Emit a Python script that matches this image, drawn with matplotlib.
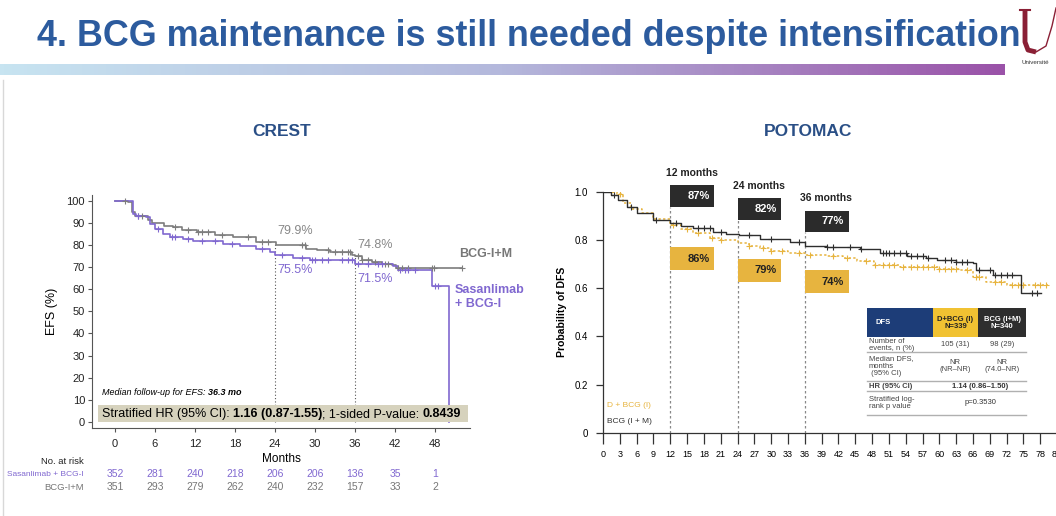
import numpy as np
import matplotlib
matplotlib.use("Agg")
import matplotlib.pyplot as plt
from matplotlib.patches import Rectangle
from matplotlib.colors import LinearSegmentedColormap
from matplotlib.transforms import blended_transform_factory

plt.rcParams["font.family"] = ["Liberation Sans", "DejaVu Sans"]

W, H = 1056, 516

# ---- CREST data ----
CREST_T_GRAY = [0, 2, 2.5, 3, 5, 5.5, 7.3, 8.7, 10, 12.3, 15, 17.7, 21.2, 24.2, 28.7, 30.3,
                32.2, 35.5, 36, 37, 38.5, 40, 41.5, 42.2, 52]
CREST_S_GRAY = [100, 99.5, 95, 93, 91, 90, 88.7, 88, 86.8, 85.7, 84.5, 83.4, 81.2, 79.9, 78.3, 77.5,
                76.8, 75.5, 74.8, 73.2, 72.3, 71.5, 70.8, 69.5, 69.5]
CREST_T_PURP = [0, 2.7, 3.2, 4.7, 5.2, 6, 7.2, 8.2, 10.2, 11.7, 16.2, 18.7, 21.2, 23.2, 24, 26.7,
                29.2, 33.7, 36, 38.7, 41.7, 42.5, 47.5, 50.1]
CREST_S_PURP = [100, 94, 93.2, 92.5, 89.5, 87.3, 85, 83.5, 82.8, 81.7, 80.2, 79.3, 78.3, 76.8, 75.5, 74.2,
                73.3, 73, 71.5, 71.2, 70.3, 68.5, 61.3, 0]
CREST_CENS_GRAY = [1.5, 3.5, 4, 9, 11, 12.5, 13, 14, 16, 20, 22, 23, 28, 28.5, 32, 33, 34, 35, 35.3,
                   36.5, 37, 38, 39, 40.5, 41, 42.5, 43, 44, 47.5, 47.8, 52]
CREST_CENS_PURP = [3.5, 6.5, 8.5, 9, 11, 13, 15, 17.5, 22, 25, 28, 29.5, 30, 31, 32, 34, 35, 35.5,
                   36.5, 38, 39.5, 40, 42.8, 43.5, 44, 45, 48, 48.5]
CREST_RISK_MONTHS = [0, 6, 12, 18, 24, 30, 36, 42, 48]
CREST_RISK_PURP = [352, 281, 240, 218, 206, 206, 136, 35, 1]
CREST_RISK_GRAY = [351, 293, 279, 262, 240, 232, 157, 33, 2]
CREST_LANDMARKS = [24, 36]
CREST_LAND_GRAY = ["79.9%", "74.8%"]
CREST_LAND_PURP = ["75.5%", "71.5%"]

# ---- POTOMAC data ----
POT_T_BLACK = [0, 1.5, 2.7, 4.2, 6, 8.9, 11.9, 14, 16.1, 19.7, 22, 24.2, 28, 33.4, 36, 39.9, 45.8,
               49.4, 54.2, 57.7, 59.5, 63, 66, 66.6, 69.6, 74.5, 78.2]
POT_S_BLACK = [1.0, 0.985, 0.966, 0.938, 0.913, 0.883, 0.869, 0.857, 0.848, 0.834, 0.826, 0.82, 0.803,
               0.793, 0.775, 0.77, 0.761, 0.747, 0.734, 0.724, 0.717, 0.71, 0.703, 0.675, 0.655, 0.58, 0.58]
POT_T_GOLD = [0, 2.5, 3.5, 5, 7, 9, 12, 14, 16, 19, 21, 24, 26, 28, 30, 33, 36, 40, 42.9, 45.3, 48.3,
              53, 60, 63.7, 66, 68.4, 72, 79.4]
POT_S_GOLD = [1.0, 0.99, 0.955, 0.93, 0.91, 0.885, 0.862, 0.845, 0.827, 0.81, 0.8, 0.789, 0.775, 0.765,
              0.755, 0.745, 0.738, 0.733, 0.724, 0.713, 0.696, 0.687, 0.68, 0.675, 0.648, 0.627, 0.613, 0.613]
POT_CENS_BLACK = [2, 5, 9.5, 13, 17, 18, 19, 21, 26, 30, 35, 40, 41, 44, 46, 50, 50.5, 51, 52, 53, 54,
                  55, 56, 57, 58, 61, 62, 63, 64, 65, 67, 69, 70, 71, 72, 73, 76.5, 77.5]
POT_CENS_GOLD = [1.5, 3, 12.5, 15, 17, 19.5, 21, 26, 28.5, 30, 32, 35, 37, 41, 43.5, 47, 48.5, 50, 51,
                 52, 53.5, 55, 56, 57, 58, 59, 60, 61, 62, 63, 65, 66.5, 67, 70, 71, 73, 74, 75, 77, 78, 79]
POT_LANDMARKS = [12, 24, 36]
POT_PCT_BLACK = ["87%", "82%", "77%"]
POT_PCT_GOLD = ["86%", "79%", "74%"]
POT_XTICKS = list(range(0, 82, 3))

TABLE_HEAD = ["DFS", "D+BCG (I)\nN=339", "BCG (I+M)\nN=340"]
TABLE_ROWS = [
    ("Number of\nevents, n (%)", "105 (31)", "98 (29)"),
    ("Median DFS,\nmonths\n (95% CI)", "NR\n(NR–NR)", "NR\n(74.0–NR)"),
    ("HR (95% CI)", "1.14 (0.86–1.50)", None),
    ("Stratified log-\nrank p value", "p=0.3530", None),
]

BLUE_TITLE = "#2c5b9e"
GRAY = "#7d7d7d"
PURPLE = "#8068d0"
GOLD = "#e7b43f"
DARK = "#2e2e2e"


def fx(x):
    return x / W


def fy(y):
    return 1 - y / H


def surv_at(times, surv, t):
    i = np.searchsorted(times, t, side="right") - 1
    return np.asarray(surv)[i]


fig = plt.figure(figsize=(W / 100, H / 100), dpi=100)
fig.patch.set_facecolor("white")

# ---- header ----
fig.text(fx(529), fy(36), "4. BCG maintenance is still needed despite intensification",
         ha="center", va="center", fontsize=25.8, fontweight="bold", color=BLUE_TITLE)
grad_ax = fig.add_axes([0, fy(75), fx(1005), (75 - 64) / H])
grad = np.linspace(0, 1, 256).reshape(1, -1)
cmap = LinearSegmentedColormap.from_list("bar", ["#c7e4f1", "#b4b8dc", "#9a52a8"])
grad_ax.imshow(grad, aspect="auto", cmap=cmap)
grad_ax.axis("off")

# small logo
logo = fig.add_axes([fx(1016), fy(56), fx(40), 50 / H])
logo.set_xlim(0, 40)
logo.set_ylim(0, 50)
logo.axis("off")
logo.plot([4, 14], [46, 46], color="#8a1f35", lw=1.5)
logo.plot([9, 9, 12, 20], [46, 14, 6, 4], color="#8a1f35", lw=3.5, solid_capstyle="butt")
logo.plot([20, 30, 36, 40], [4, 10, 30, 48], color="#8a1f35", lw=1)
fig.text(fx(1022), fy(62), "Université", fontsize=4.5, color="#333", va="center")

fig.add_artist(plt.Line2D([fx(3), fx(3)], [fy(80), fy(516)], color="#d8d8d8", lw=1))

fig.text(fx(282), fy(131), "CREST", ha="center", va="center", fontsize=12.5,
         fontweight="bold", color="#2a4f86")
fig.text(fx(808), fy(131), "POTOMAC", ha="center", va="center", fontsize=12.5,
         fontweight="bold", color="#2a4f86")

# ---- CREST axes ----
ax = fig.add_axes([fx(92), fy(428), fx(470 - 92), (428 - 195) / H])
ax.set_xlim(-3.45, 53.25)
ax.set_ylim(-2.7, 102.5)
for s in ["top", "right"]:
    ax.spines[s].set_visible(False)
for s in ["left", "bottom"]:
    ax.spines[s].set_color("#555")
    ax.spines[s].set_linewidth(0.8)
ax.set_yticks(range(0, 101, 10))
ax.set_xticks(CREST_RISK_MONTHS)
ax.tick_params(axis="both", labelsize=8, color="#555", length=3, width=0.8, labelcolor="#222")
ax.tick_params(axis="x", pad=5)
ax.tick_params(axis="y", pad=2)
ax.set_ylabel("EFS (%)", fontsize=9, labelpad=6)
ax.set_xlabel("Months", fontsize=8.5, labelpad=3)

ax.step(CREST_T_GRAY, CREST_S_GRAY, where="post", color=GRAY, lw=1.2, zorder=3)
ax.step(CREST_T_PURP, CREST_S_PURP, where="post", color=PURPLE, lw=1.2, zorder=3)
ax.plot(CREST_CENS_GRAY, [surv_at(CREST_T_GRAY, CREST_S_GRAY, t) for t in CREST_CENS_GRAY],
        "+", color=GRAY, ms=5, mew=0.8, zorder=4)
ax.plot(CREST_CENS_PURP, [surv_at(CREST_T_PURP, CREST_S_PURP, t) for t in CREST_CENS_PURP],
        "+", color=PURPLE, ms=5, mew=0.8, zorder=4)

for m, g, p in zip(CREST_LANDMARKS, CREST_LAND_GRAY, CREST_LAND_PURP):
    top = surv_at(CREST_T_GRAY, CREST_S_GRAY, m)
    ax.plot([m, m], [0, top], ls=(0, (1, 2)), color="#555", lw=0.8, zorder=2)
    ax.text(m + 0.4, top + 5, g, color="#888", fontsize=9, va="center", ha="left")
    ax.text(m + 0.4, surv_at(CREST_T_PURP, CREST_S_PURP, m) - 7, p, color=PURPLE, fontsize=9,
            va="center", ha="left")

ax.text(51.6, 75.7, "BCG-I+M", color="#777", fontsize=9, fontweight="bold", va="center",
        clip_on=False)
ax.text(51.0, 56.5, "Sasanlimab\n+ BCG-I", color=PURPLE, fontsize=9, fontweight="bold",
        va="center", linespacing=1.3, clip_on=False)

ax.add_patch(Rectangle((-2.6, -0.2), 55.6, 7.8, facecolor="#d6d2bd", edgecolor="none", zorder=5))
t1 = ax.text(-2.0, 3.5, "Stratified HR (95% CI): ", fontsize=9, va="center", zorder=6)
t2 = ax.annotate("1.16 (0.87-1.55)", xy=(1, 0), xycoords=t1, va="bottom", fontsize=9,
                 fontweight="bold", zorder=6)
t3 = ax.annotate("; 1-sided P-value: ", xy=(1, 0), xycoords=t2, va="bottom", fontsize=9, zorder=6)
ax.annotate("0.8439", xy=(1, 0), xycoords=t3, va="bottom", fontsize=9, fontweight="bold", zorder=6)
m1 = ax.text(-2.0, 13.5, "Median follow-up for EFS: ", fontsize=6.5, style="italic", va="center")
ax.annotate("36.3 mo", xy=(1, 0), xycoords=m1, va="bottom", fontsize=6.5, style="italic",
            fontweight="bold")

tr = blended_transform_factory(ax.transData, fig.transFigure)
fig.text(fx(84), fy(461), "No. at risk", fontsize=6.8, ha="right", va="center", color="#222")
fig.text(fx(84), fy(474), "Sasanlimab + BCG-I", fontsize=6, ha="right", va="center", color=PURPLE)
fig.text(fx(84), fy(487), "BCG-I+M", fontsize=6.8, ha="right", va="center", color="#777")
for m, a, b in zip(CREST_RISK_MONTHS, CREST_RISK_PURP, CREST_RISK_GRAY):
    ax.text(m, fy(474), str(a), transform=tr, fontsize=7.5, ha="center", va="center", color=PURPLE)
    ax.text(m, fy(487), str(b), transform=tr, fontsize=7.5, ha="center", va="center", color="#777")

# ---- POTOMAC axes ----
bx = fig.add_axes([fx(603), fy(433), fx(1075 - 603), (433 - 191.7) / H])
bx.set_xlim(0, 84.2)
bx.set_ylim(0, 1.0)
for s in ["top", "right"]:
    bx.spines[s].set_visible(False)
for s in ["left", "bottom"]:
    bx.spines[s].set_color("#333")
    bx.spines[s].set_linewidth(0.9)
bx.set_xticks(POT_XTICKS)
bx.set_yticks([0, 0.2, 0.4, 0.6, 0.8, 1.0])
bx.set_yticklabels(["0", "0.2", "0.4", "0.6", "0.8", "1.0"])
bx.tick_params(axis="x", labelsize=6.5, length=8, width=0.9, color="#333", pad=4)
bx.tick_params(axis="y", labelsize=7, length=5, width=0.9, color="#333", pad=6)
bx.set_ylabel("Probability of DFS", fontsize=7.5, fontweight="bold", labelpad=5)

bx.step(POT_T_GOLD, POT_S_GOLD, where="post", color=GOLD, lw=1.1, ls=(0, (1.5, 1.5)), zorder=3)
bx.step(POT_T_BLACK, POT_S_BLACK, where="post", color=DARK, lw=1.0, zorder=4)
bx.plot(POT_CENS_GOLD, [surv_at(POT_T_GOLD, POT_S_GOLD, t) for t in POT_CENS_GOLD],
        "+", color=GOLD, ms=5, mew=0.8, zorder=3)
bx.plot(POT_CENS_BLACK, [surv_at(POT_T_BLACK, POT_S_BLACK, t) for t in POT_CENS_BLACK],
        "+", color=DARK, ms=5, mew=0.8, zorder=4)

for k, (m, pb, pg) in enumerate(zip(POT_LANDMARKS, POT_PCT_BLACK, POT_PCT_GOLD)):
    btop = 1.028 - 0.053 * k
    gtop = 0.771 - 0.048 * k
    bx.plot([m, m], [0, btop - 0.09], ls=(0, (2, 2)), color="#888", lw=0.9, zorder=2)
    bx.add_patch(Rectangle((m, btop - 0.091), 7.8, 0.091, facecolor="#2b2b2b",
                           edgecolor="none", zorder=6, clip_on=False))
    bx.add_patch(Rectangle((m, gtop - 0.096), 7.8, 0.096, facecolor=GOLD,
                           edgecolor="none", zorder=6, clip_on=False))
    bx.text(m + 7.0, btop - 0.045, pb, color="white", fontsize=8, fontweight="bold",
            ha="right", va="center", zorder=7, clip_on=False)
    bx.text(m + 7.0, gtop - 0.048, pg, color="#222", fontsize=8, fontweight="bold",
            ha="right", va="center", zorder=7, clip_on=False)
    bx.text(m + 3.8, btop + 0.05, f"{m} months", color="#222", fontsize=7.5, fontweight="bold",
            ha="center", va="center", clip_on=False)

bx.text(0.8, 0.112, "D + BCG (I)", color=GOLD, fontsize=6, va="center")
bx.text(0.8, 0.046, "BCG (I + M)", color="#333", fontsize=6, va="center")

# ---- DFS table ----
cols = [(867, 933), (933, 978), (978, 1026)]
head_colors = ["#1d3d78", "#f1c232", "#2e2e2e"]
head_text = ["white", "#222", "white"]
for (x0, x1), c in zip(cols, head_colors):
    fig.add_artist(Rectangle((fx(x0), fy(337)), fx(x1 - x0), 29 / H, facecolor=c,
                             edgecolor="none", transform=fig.transFigure))
fig.text(fx(875), fy(323), TABLE_HEAD[0], color="white", fontsize=5.5, fontweight="bold",
         va="center")
for (x0, x1), tc, txt in zip(cols[1:], head_text[1:], TABLE_HEAD[1:]):
    fig.text(fx((x0 + x1) / 2), fy(323), txt, color=tc, fontsize=5.5, fontweight="bold",
             ha="center", va="center", linespacing=1.1)
row_y = [345, 366, 386, 403]
row_lines = [352, 381, 391, 415]
for (lab, v1, v2), y, yl in zip(TABLE_ROWS, row_y, row_lines):
    bold = "bold" if lab.startswith("HR") else "normal"
    fig.text(fx(869), fy(y), lab, fontsize=5.5, va="center", color="#444", fontweight=bold,
             linespacing=1.05)
    if v2 is None:
        fig.text(fx(980), fy(y), v1, fontsize=5.5, ha="center", va="center", color="#333",
                 fontweight=bold)
    else:
        fig.text(fx(955), fy(y), v1, fontsize=5.5, ha="center", va="center", color="#444",
                 linespacing=1.05)
        fig.text(fx(1002), fy(y), v2, fontsize=5.5, ha="center", va="center", color="#444",
                 linespacing=1.05)
    fig.add_artist(plt.Line2D([fx(867), fx(1026)], [fy(yl), fy(yl)], color="#b0b0b0", lw=1))

fig.savefig("out.png", dpi=100, facecolor="white")
